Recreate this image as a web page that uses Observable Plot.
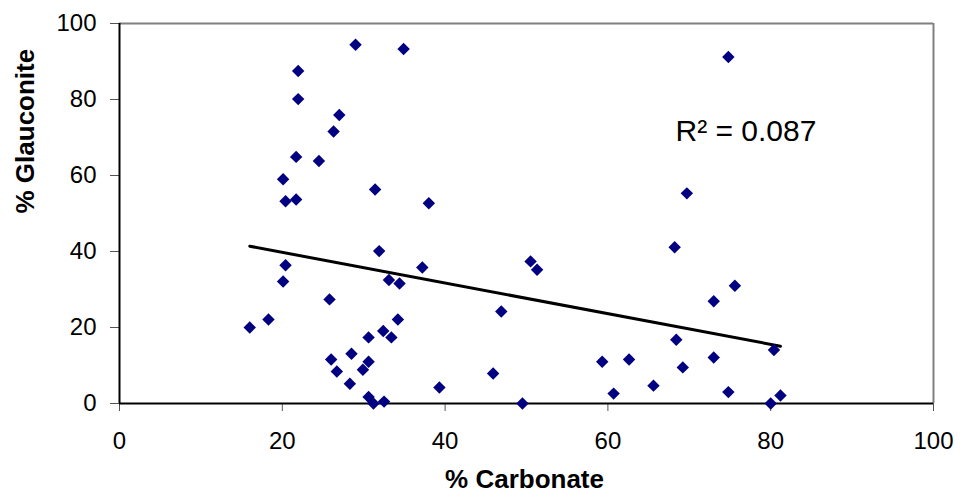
<!DOCTYPE html>
<html>
<head>
<meta charset="utf-8">
<script src="https://cdn.jsdelivr.net/npm/d3@7"></script>
<script src="https://cdn.jsdelivr.net/npm/@observablehq/plot@0.6"></script>
<style>
  html, body { margin: 0; padding: 0; background: white; }
</style>
</head>
<body>
<div id="chart"></div>
<script>
const carbonate = [16.0, 18.3, 20.4, 20.1, 25.8, 31.9, 37.2, 33.1, 34.4, 34.2, 32.4, 33.4, 30.6, 26.0, 28.5, 30.6, 29.9, 26.7, 28.3, 30.6, 31.2, 32.5, 39.3,
  29.0, 34.9, 21.95, 21.95, 27.0, 26.3, 21.7, 24.5, 20.1, 31.4, 20.4, 21.7, 38.0,
  46.9, 45.9, 49.5, 50.5, 51.3, 59.3, 60.7, 62.6, 65.6, 68.2, 68.4, 69.2, 75.6, 73.0, 73.0, 74.8, 80.4, 81.2, 80.0, 74.8, 69.7];
const glauconite = [20.0, 22.1, 36.4, 32.1, 27.4, 40.1, 35.8, 32.5, 31.6, 22.1, 19.1, 17.4, 17.4, 11.6, 13.1, 11.0, 8.9, 8.4, 5.2, 1.7, 0.0, 0.5, 4.2,
  94.4, 93.3, 87.5, 80.1, 75.9, 71.6, 64.9, 63.8, 59.0, 56.3, 53.2, 53.7, 52.7,
  24.2, 7.9, 0.0, 37.4, 35.2, 11.0, 2.6, 11.6, 4.7, 41.1, 16.8, 9.5, 31.0, 26.9, 12.1, 3.0, 14.1, 2.1, 0.0, 91.2, 55.3];
const xTicks = [0, 20, 40, 60, 80, 100];
const yTicks = [0, 20, 40, 60, 80, 100];
const xTitle = "% Carbonate";
const yTitle = "% Glauconite";
const r2Label = "R\u00B2 = 0.087";

const data = carbonate.map((c, i) => ({carbonate: c, glauconite: glauconite[i]}));

const chart = Plot.plot({
  width: 966,
  height: 504,
  marginLeft: 119,
  marginRight: 33,
  marginTop: 23,
  marginBottom: 101,
  x: {domain: [0, 100]},
  y: {domain: [0, 100]},
  style: {fontFamily: "'Liberation Sans', Arial, sans-serif", fontSize: "24px", color: "black", background: "white"},
  marks: [
    Plot.ruleY([100], {stroke: "#808080", strokeWidth: 2}),
    Plot.ruleX([100], {stroke: "#808080", strokeWidth: 2}),
    Plot.axisX({ticks: xTicks, tickSize: 8, tickPadding: 20, label: null, fontSize: 24, stroke: "#555"}),
    Plot.axisY({ticks: yTicks, tickSize: 9, tickPadding: 14, label: null, fontSize: 24, stroke: "#555"}),
    Plot.ruleX([0], {stroke: "black", strokeWidth: 2}),
    Plot.ruleY([0], {stroke: "black", strokeWidth: 2}),
    Plot.linearRegressionY(data, {x: "carbonate", y: "glauconite", ci: 0, stroke: "black", strokeWidth: 3}),
    Plot.dot(data, {x: "carbonate", y: "glauconite", symbol: "diamond2", r: 5.6, fill: "#000080", stroke: "none"}),
    Plot.text([xTitle], {frameAnchor: "bottom", dy: 84, dx: -2, fontWeight: "bold", fontSize: 26, text: d => d}),
    Plot.text([yTitle], {frameAnchor: "left", dx: -94, rotate: -90, fontWeight: "bold", fontSize: 26, text: d => d}),
    Plot.text([r2Label], {frameAnchor: "top-left", dx: 556, dy: 96, textAnchor: "start", fontSize: 30, text: d => d})
  ]
});
document.getElementById("chart").appendChild(chart);
</script>
</body>
</html>
